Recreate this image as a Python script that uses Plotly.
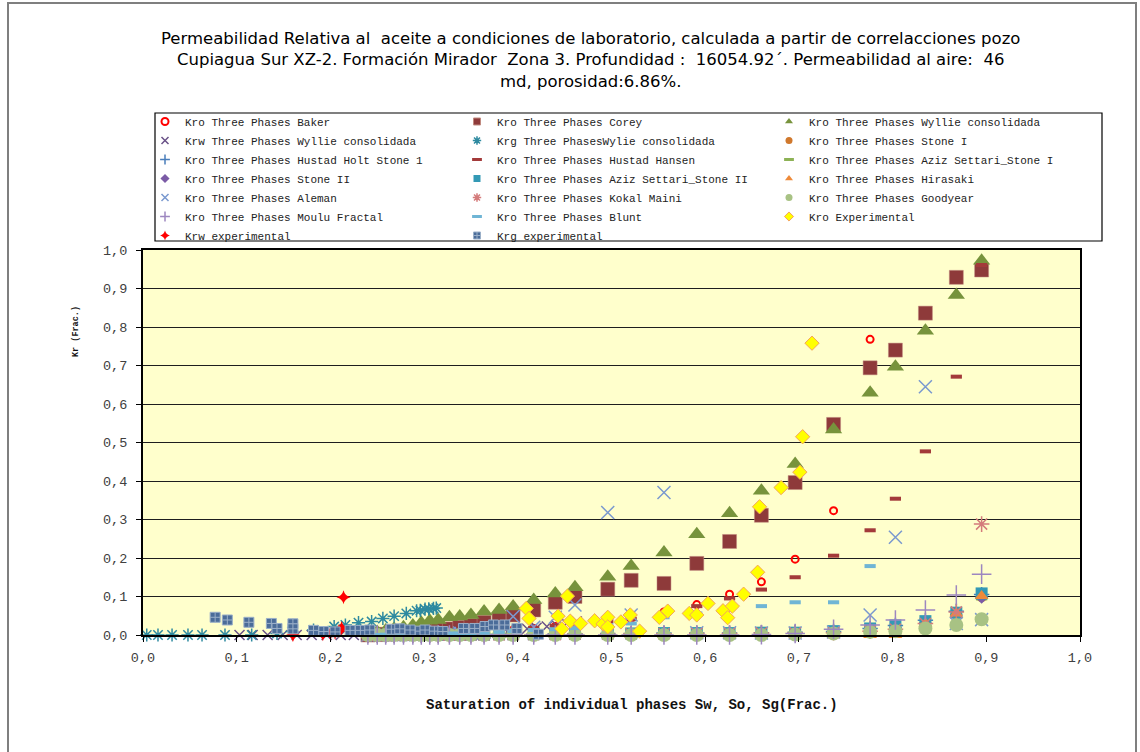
import plotly.graph_objects as go

# ---------------------------------------------------------------------------
# Oil saturation grid shared by the three-phase Kro correlations
so = [0.240, 0.250, 0.259, 0.268, 0.278, 0.288, 0.297, 0.306, 0.315, 0.327,
      0.338, 0.350, 0.364, 0.380, 0.395, 0.417, 0.440, 0.461, 0.496, 0.521,
      0.556, 0.591, 0.626, 0.660, 0.696, 0.737, 0.776, 0.803, 0.835, 0.868,
      0.895]

kro_baker = [0.000, 0.000, 0.000, 0.000, 0.001, 0.001, 0.002, 0.002, 0.003, 0.004,
             0.005, 0.006, 0.008, 0.010, 0.013, 0.017, 0.022, 0.028, 0.036, 0.043,
             0.060, 0.079, 0.106, 0.138, 0.197, 0.323, 0.768, None, None, None,
             None]
kro_corey = [0.000, 0.001, 0.002, 0.003, 0.005, 0.007, 0.009, 0.011, 0.013, 0.016,
             0.020, 0.025, 0.033, 0.041, 0.052, 0.065, 0.085, 0.100, 0.119, 0.142,
             0.134, 0.186, 0.243, 0.311, 0.396, 0.547, 0.694, 0.740, 0.836, 0.929,
             0.948]
kro_wyllie = [0.005, 0.008, 0.012, 0.016, 0.020, 0.025, 0.032, 0.037, 0.039, 0.046,
              0.048, 0.052, 0.061, 0.065, 0.074, 0.091, 0.108, 0.124, 0.151, 0.179,
              0.214, 0.262, 0.316, 0.375, 0.444, 0.534, 0.629, 0.697, 0.790, 0.883,
              0.972]
kro_stone1 = [0.000, 0.000, 0.000, 0.000, 0.000, 0.000, 0.000, 0.000, 0.000, 0.001,
              0.001, 0.001, 0.001, 0.002, 0.002, 0.002, 0.003, 0.003, 0.004, 0.004,
              0.005, 0.005, 0.005, 0.006, 0.006, 0.008, 0.015, 0.022, 0.033, 0.055,
              0.100]
kro_hustad_holt = [0.000, 0.000, 0.000, 0.000, 0.000, 0.000, 0.000, 0.000, 0.000, 0.001,
                   0.001, 0.001, 0.001, 0.002, 0.002, 0.002, 0.003, 0.003, 0.004, 0.004,
                   0.005, 0.005, 0.005, 0.006, 0.007, 0.009, 0.017, 0.025, 0.038, 0.062,
                   0.105]
kro_hustad_hansen = [0.000, 0.000, 0.001, 0.001, 0.001, 0.002, 0.002, 0.003, 0.003, 0.004,
                     0.005, 0.006, 0.008, 0.010, 0.013, 0.018, 0.024, 0.030, 0.036, 0.042,
                     0.055, 0.075, 0.095, 0.118, 0.150, 0.206, 0.272, 0.354, 0.477, 0.671,
                     0.961]
kro_aziz_stone1 = [0.000, 0.000, 0.000, 0.000, 0.000, 0.000, 0.000, 0.000, 0.000, 0.001,
                   0.001, 0.001, 0.001, 0.002, 0.002, 0.002, 0.003, 0.003, 0.004, 0.004,
                   0.005, 0.005, 0.005, 0.006, 0.006, 0.008, 0.014, 0.020, 0.030, 0.050,
                   0.095]
kro_stone2 = [0.000, 0.000, 0.000, 0.000, 0.000, 0.000, 0.000, 0.000, 0.000, 0.000,
              0.000, 0.001, 0.001, 0.001, 0.001, 0.002, 0.002, 0.002, 0.003, 0.003,
              0.003, 0.004, 0.004, 0.004, 0.005, 0.007, 0.013, 0.020, 0.031, 0.052,
              0.098]
kro_aziz_stone2 = [0.000, 0.000, 0.000, 0.000, 0.000, 0.000, 0.000, 0.000, 0.000, 0.001,
                   0.001, 0.001, 0.001, 0.002, 0.002, 0.002, 0.003, 0.003, 0.004, 0.004,
                   0.005, 0.005, 0.005, 0.006, 0.006, 0.010, 0.017, 0.025, 0.036, 0.058,
                   0.108]
kro_hirasaki = [0.000, 0.000, 0.000, 0.000, 0.000, 0.000, 0.000, 0.000, 0.000, 0.000,
                0.000, 0.000, 0.000, 0.000, 0.000, 0.000, 0.000, 0.000, 0.000, 0.000,
                0.000, 0.000, 0.000, 0.000, 0.000, 0.000, 0.000, 0.000, 0.030, 0.056,
                0.101]
kro_aleman = [0.000, 0.000, 0.000, 0.000, 0.001, 0.001, 0.002, 0.002, 0.003, 0.004,
              0.005, 0.006, 0.008, 0.010, 0.048, 0.020, 0.046, 0.078, 0.318, 0.052,
              0.370, 0.006, 0.006, 0.005, 0.005, 0.008, 0.052, 0.254, 0.645, 0.030,
              0.040]
kro_kokal_maini = [0.000, 0.000, 0.000, 0.000, 0.000, 0.000, 0.000, 0.000, 0.000, 0.000,
                   0.000, 0.000, 0.000, 0.000, 0.001, 0.001, 0.001, 0.002, 0.002, 0.003,
                   0.003, 0.004, 0.004, 0.005, 0.005, 0.006, 0.010, 0.015, 0.030, 0.060,
                   0.288]
kro_goodyear = [0.000, 0.000, 0.000, 0.000, 0.000, 0.000, 0.000, 0.000, 0.000, 0.000,
                0.000, 0.000, 0.000, 0.000, 0.000, 0.000, 0.000, 0.000, 0.000, 0.000,
                0.000, 0.000, 0.000, 0.000, 0.001, 0.004, 0.008, 0.010, 0.017, 0.026,
                0.041]
kro_moulu = [0.000, 0.000, 0.000, 0.000, 0.000, 0.000, 0.000, 0.000, 0.000, 0.000,
             0.000, 0.000, 0.000, 0.000, 0.000, 0.000, 0.000, 0.000, 0.000, 0.000,
             0.000, 0.000, 0.000, 0.001, 0.004, 0.015, 0.026, 0.039, 0.065, 0.104,
             0.158]
kro_blunt = [0.000, 0.000, 0.001, 0.001, 0.001, 0.002, 0.002, 0.003, 0.003, 0.004,
             0.004, 0.005, 0.006, 0.008, 0.010, 0.013, 0.015, 0.018, 0.026, 0.030,
             0.046, 0.056, 0.067, 0.075, 0.085, 0.085, 0.179, None, None, None,
             None]

# Water saturation grid for the Wyllie Krw correlation
sw_wyllie = [0.103, 0.117, 0.133, 0.149, 0.164, 0.180, 0.196, 0.211, 0.225, 0.239,
             0.254, 0.268, 0.283, 0.297, 0.311, 0.325, 0.339, 0.352, 0.365, 0.378,
             0.389, 0.399, 0.410, 0.420, 0.431, 0.441, 0.452, 0.463]
krw_wyllie = [0.000, 0.000, 0.000, 0.000, 0.000, 0.000, 0.000, 0.000, 0.000, 0.000,
              0.000, 0.000, 0.000, 0.000, 0.000, 0.000, 0.001, 0.002, 0.004, 0.006,
              0.008, 0.013, 0.016, 0.019, 0.022, 0.026, 0.030, 0.035]

# Gas saturation grid for the Wylie Krg correlation
sg_wylie = [0.004, 0.016, 0.031, 0.048, 0.063, 0.0875, 0.116, 0.143, 0.159, 0.182,
            0.204, 0.216, 0.230, 0.244, 0.256, 0.268, 0.281, 0.292, 0.296, 0.301,
            0.305, 0.310, 0.313]
krg_wylie = [0.000, 0.000, 0.000, 0.000, 0.000, 0.000, 0.000, 0.004, 0.009, 0.013,
             0.022, 0.026, 0.032, 0.035, 0.043, 0.049, 0.056, 0.063, 0.064, 0.067,
             0.068, 0.069, 0.070]

# Laboratory measurements
so_exp = [0.409, 0.412, 0.443, 0.447, 0.453, 0.456, 0.467, 0.482, 0.491, 0.496,
          0.496, 0.510, 0.520, 0.530, 0.551, 0.560, 0.583, 0.591, 0.603, 0.619,
          0.624, 0.629, 0.641, 0.656, 0.658, 0.681, 0.701, 0.704, 0.714]
kro_exp = [0.069, 0.043, 0.049, 0.016, 0.101, 0.036, 0.030, 0.037, 0.029, 0.046,
           0.021, 0.034, 0.052, 0.010, 0.046, 0.062, 0.056, 0.052, 0.082, 0.063,
           0.045, 0.075, 0.106, 0.163, 0.333, 0.383, 0.423, 0.515, 0.758]

sw_exp = [0.160, 0.192, 0.200, 0.205, 0.209, 0.212, 0.214]
krw_exp = [0.000, 0.002, 0.004, 0.006, 0.010, 0.018, 0.098]

sg_exp = [0.077, 0.090, 0.113, 0.137, 0.143, 0.160, 0.160, 0.182, 0.193, 0.205,
          0.221, 0.232, 0.242, 0.265, 0.274, 0.285, 0.296, 0.301, 0.311, 0.320,
          0.342, 0.354, 0.365, 0.374, 0.386, 0.399, 0.422]
krg_exp = [0.046, 0.039, 0.033, 0.030, 0.017, 0.029, 0.016, 0.012, 0.009, 0.008,
           0.012, 0.012, 0.013, 0.015, 0.016, 0.013, 0.010, 0.013, 0.010, 0.009,
           0.017, 0.017, 0.022, 0.026, 0.026, 0.017, 0.002]

x_ticks = [0.0, 0.1, 0.2, 0.3, 0.4, 0.5, 0.6, 0.7, 0.8, 0.9, 1.0]
y_ticks = [0.0, 0.1, 0.2, 0.3, 0.4, 0.5, 0.6, 0.7, 0.8, 0.9, 1.0]

# name, x, y, symbol, fill colour, size, outline colour, outline width
series = [
    ("Kro Three Phases Baker", so, kro_baker, "circle-open", "#FF0000", 7, None, 2),
    ("Kro Three Phases Corey", so, kro_corey, "square", "#8E3A3A", 14, "#C08A80", 0.5),
    ("Kro Three Phases Wyllie consolidada", so, kro_wyllie, "triangle-up", "#77933C", 15, None, 0),
    ("Krw Three Phases Wyllie consolidada", sw_wyllie, krw_wyllie, "x-thin-open", "#6A5288", 10, None, 1.5),
    ("Krg Three PhasesWylie consolidada", sg_wylie, krg_wylie, "asterisk-open", "#2E8AA0", 11, None, 1.5),
    ("Kro Three Phases Stone I", so, kro_stone1, "circle", "#D0782C", 11, None, 0),
    ("Kro Three Phases Hustad Holt Stone 1", so, kro_hustad_holt, "cross-thin-open", "#4A7EBB", 11, None, 1.5),
    ("Kro Three Phases Hustad Hansen", so, kro_hustad_hansen, "line-ew-open", "#A33A3A", 8, None, 4),
    ("Kro Three Phases Aziz Settari_Stone I", so, kro_aziz_stone1, "line-ew-open", "#8DB255", 8, None, 4),
    ("Kro Three Phases Stone II", so, kro_stone2, "diamond", "#7B5BA6", 10, None, 0),
    ("Kro Three Phases Aziz Settari_Stone II", so, kro_aziz_stone2, "square", "#3399B5", 12, None, 0),
    ("Kro Three Phases Hirasaki", so, kro_hirasaki, "triangle-up", "#EE8A3A", 12, None, 0),
    ("Kro Three Phases Aleman", so, kro_aleman, "x-thin-open", "#7A99CF", 13, None, 1.5),
    ("Kro Three Phases Kokal Maini", so, kro_kokal_maini, "asterisk-open", "#D47B7B", 13, None, 1.5),
    ("Kro Three Phases Goodyear", so, kro_goodyear, "circle", "#A8C284", 14, None, 0),
    ("Kro Three Phases Moulu Fractal", so, kro_moulu, "cross-thin-open", "#9D87C0", 14, None, 1.5),
    ("Kro Three Phases Blunt", so, kro_blunt, "line-ew-open", "#6FB5D5", 8, None, 4),
    ("Kro Experimental", so_exp, kro_exp, "diamond", "#FFFF00", 11, "#F5A45A", 1),
    ("Krw experimental", sw_exp, krw_exp, "star-diamond", "#FF0000", 10, None, 0),
    ("Krg experimental", sg_exp, krg_exp, "square-cross", "#4B6C99", 10, "#9AAFC8", 1),
]

fig = go.Figure()


def marker_style(symbol, color, size, line_color, line_width):
    m = dict(symbol=symbol, color=color, size=size)
    if symbol.endswith("-open"):
        m["line"] = dict(color=color, width=line_width)
    elif line_color:
        m["line"] = dict(color=line_color, width=line_width)
    else:
        m["line"] = dict(width=0)
    return m


# Data points (drawn in series order, later series on top)
for name, xs, ys, sym, col, size, lcol, lw in series:
    fig.add_trace(go.Scatter(
        x=xs, y=ys, mode="markers", name=name, showlegend=False,
        legendgroup=name, cliponaxis=False,
        marker=marker_style(sym, col, size, lcol, lw),
    ))

# Small legend swatches
for name, xs, ys, sym, col, size, lcol, lw in series:
    lsize = 7
    lwidth = min(lw, 2) if sym.endswith("-open") else (1 if lcol else 0)
    if sym == "line-ew-open":
        lwidth = 3
    fig.add_trace(go.Scatter(
        x=[None], y=[None], mode="markers", name=name, showlegend=True,
        legendgroup=name,
        marker=marker_style(sym, col, lsize, lcol, lwidth),
    ))

L, R, T, B = 143, 60, 250, 117
PW, PH = 1140 - L - R, 752 - T - B


def px_x(p):
    return (p - L) / PW


def px_y(p):
    return (752 - B - p) / PH


mono = "Liberation Mono, Courier New, monospace"

fig.update_layout(
    width=1140, height=752,
    margin=dict(l=L, r=R, t=T, b=B),
    paper_bgcolor="white",
    plot_bgcolor="#FFFFCC",
    separators=",.",
    showlegend=True,
    legend=dict(
        orientation="h", x=px_x(145), y=px_y(107), xanchor="left", yanchor="top",
        entrywidth=267, entrywidthmode="pixels",
        font=dict(family=mono, size=11, color="#222222"),
        bgcolor="rgba(0,0,0,0)", borderwidth=0, itemsizing="trace",
        traceorder="normal",
    ),
    xaxis=dict(
        range=[0, 1], tickvals=x_ticks, tickformat=".1f",
        ticks="outside", ticklen=5, tickcolor="black", tickwidth=1,
        showgrid=False, zeroline=False,
        showline=True, linecolor="black", linewidth=2, mirror=True,
        tickfont=dict(family=mono, size=13.5, color="#404040"),
        ticklabelstandoff=4,
    ),
    yaxis=dict(
        range=[0, 1], tickvals=y_ticks, tickformat=".1f",
        ticks="outside", ticklen=5, tickcolor="black", tickwidth=1,
        showgrid=True, gridcolor="#1E1E1E", gridwidth=1.2, zeroline=False,
        showline=True, linecolor="black", linewidth=2, mirror=True,
        tickfont=dict(family=mono, size=13.5, color="#404040"),
        ticklabelstandoff=6,
    ),
    shapes=[
        # outer chart frame
        dict(type="rect", xref="paper", yref="paper",
             x0=px_x(8), x1=px_x(1136), y0=px_y(790), y1=px_y(3),
             line=dict(color="#7F7F7F", width=2), layer="below"),
        # legend box
        dict(type="rect", xref="paper", yref="paper",
             x0=px_x(155), x1=px_x(1102), y0=px_y(241), y1=px_y(113),
             line=dict(color="black", width=1.2), layer="below"),
    ],
    annotations=[
        dict(xref="paper", yref="paper", x=px_x(590), y=px_y(60),
             xanchor="center", yanchor="middle", showarrow=False, align="center",
             text=("Permeabilidad Relativa al  aceite a condiciones de laboratorio, "
                   "calculada a partir de correlacciones pozo<br>"
                   "Cupiagua Sur XZ-2. Formación Mirador  Zona 3. Profundidad :  "
                   "16054.92´. Permeabilidad al aire:  46<br>md, porosidad:6.86%."),
             font=dict(family="DejaVu Sans, Verdana, sans-serif", size=16.5, color="black")),
        dict(xref="paper", yref="paper", x=px_x(632), y=px_y(705),
             xanchor="center", yanchor="middle", showarrow=False,
             text="<b>Saturation of individual phases Sw, So, Sg(Frac.)</b>",
             font=dict(family=mono, size=14, color="#111111")),
        dict(xref="paper", yref="paper", x=px_x(76), y=px_y(332),
             xanchor="center", yanchor="middle", showarrow=False, textangle=-90,
             text="<b>Kr (Frac.)</b>",
             font=dict(family=mono, size=8.5, color="#111111")),
    ],
)

fig.write_html("out.html")
